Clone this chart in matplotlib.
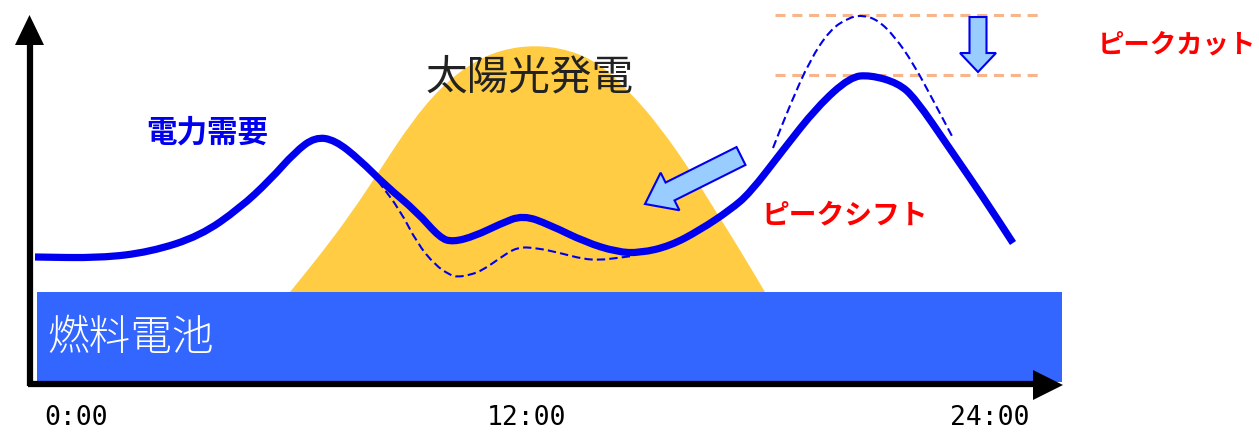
import matplotlib
matplotlib.use("Agg")
import matplotlib.pyplot as plt
from matplotlib.patches import Polygon, Rectangle, FancyArrow, PathPatch
from matplotlib.path import Path

plt.rcParams['font.family'] = ['Noto Sans CJK JP', 'DejaVu Sans']

# Schematic data (pixel-like coordinates, y grows downward)
demand_x = [35, 100, 150, 200, 240, 270, 295, 315, 335, 360, 385, 417, 440, 453, 475, 500, 523, 550, 585, 617, 640, 670, 700, 730, 750, 783, 817, 850, 870, 898, 915, 950, 983, 1013]
demand_y = [257, 258, 252, 236, 208, 180, 152, 137, 140, 160, 185, 212, 238, 242, 236, 224, 215, 225, 242, 252, 253, 246, 230, 210, 193, 150, 107, 77, 75, 83, 98, 149, 197, 243]

orig_x = [378, 400, 417, 435, 450, 457, 470, 483, 500, 517, 537, 560, 583, 600, 617, 632]
orig_y = [181, 210, 243, 265, 275, 277, 275, 270, 258, 247, 248, 253, 259, 260, 258, 256]

orig_peak_x = [773, 790, 810, 830, 848, 862, 878, 895, 913, 933, 953]
orig_peak_y = [148, 105, 60, 30, 18, 15, 20, 37, 63, 100, 138]

sun_x = [290, 320, 350, 380, 410, 440, 470, 500, 535, 570, 600, 630, 660, 690, 715, 740, 765]
sun_y = [292, 255, 215, 170, 124, 88, 64, 50, 45, 50, 64, 92, 127, 170, 210, 250, 292]

fc_rect = (37, 292, 1025, 90)  # x, y, w, h

peak_levels = [15, 75]
peak_x_range = (775, 1042)

time_labels = ["0:00", "12:00", "24:00"]
time_pos = [76, 527, 990]


def smooth_path(xs, ys, close=False):
    pts = list(zip(xs, ys))
    verts = [pts[0]]
    codes = [Path.MOVETO]
    mid = lambda a, b: ((a[0] + b[0]) / 2, (a[1] + b[1]) / 2)
    verts.append(mid(pts[0], pts[1]))
    codes.append(Path.LINETO)
    for i in range(1, len(pts) - 1):
        verts += [pts[i], mid(pts[i], pts[i + 1])]
        codes += [Path.CURVE3, Path.CURVE3]
    verts.append(pts[-1])
    codes.append(Path.LINETO)
    if close:
        verts.append(pts[0])
        codes.append(Path.CLOSEPOLY)
    return Path(verts, codes)


fig = plt.figure(figsize=(12.59, 4.34), dpi=100)
ax = fig.add_axes([0, 0, 1, 1])
ax.set_xlim(0, 1259)
ax.set_ylim(434, 0)
ax.axis('off')

# solar
ax.add_patch(PathPatch(smooth_path(sun_x, sun_y, close=True), facecolor='#FFCC44', edgecolor='none', zorder=1))
ax.text(530, 78, "太陽光発電", fontsize=30, color='#222222', ha='center', va='center', zorder=5)

# fuel cell
x0, y0, w, h = fc_rect
ax.add_patch(Rectangle((x0, y0), w, h, facecolor='#3366FF', edgecolor='none', zorder=2))
ax.text(47, 338, "燃料電池", fontsize=30, color='white', ha='left', va='center', fontweight='light', zorder=5)

# axes arrows
ax.plot([30, 30], [386, 40], color='black', lw=4.5, solid_capstyle='butt', zorder=6)
ax.add_patch(Polygon([[15, 45], [44, 45], [29.5, 15]], closed=True, facecolor='black', edgecolor='none', zorder=6))
ax.plot([28, 1035], [384, 384], color='black', lw=4.5, solid_capstyle='butt', zorder=6)
ax.add_patch(Polygon([[1033, 370], [1033, 400], [1063, 385]], closed=True, facecolor='black', edgecolor='none', zorder=6))

for lbl, px in zip(time_labels, time_pos):
    ax.text(px, 418, lbl, fontsize=19, color='black', ha='center', va='center',
            family=['DejaVu Sans Mono'], zorder=6)

# peak levels
for yl in peak_levels:
    ax.plot(peak_x_range, [yl, yl], color='#F8B58A', lw=2.2, dashes=(3.3, 2.2), zorder=3)

# original demand (dashed)
for xs, ys in [(orig_x, orig_y), (orig_peak_x, orig_peak_y)]:
    ax.add_patch(PathPatch(smooth_path(xs, ys), facecolor='none', edgecolor='#0000EE', lw=1.5,
                           linestyle=(0, (4, 2)), zorder=4))

# demand
ax.add_patch(PathPatch(smooth_path(demand_x, demand_y), facecolor='none', edgecolor='#0000EE', lw=5.2,
                       joinstyle='round', capstyle='butt', zorder=5))
ax.text(207, 133, "電力需要", fontsize=22, color='#0000EE', fontweight='bold', ha='center', va='center', zorder=6)

# arrows
ax.add_patch(FancyArrow(978, 17, 0, 55, width=17, head_width=36, head_length=19,
                        length_includes_head=True, facecolor='#99CCFF', edgecolor='#0000EE', lw=1.5, zorder=7))
ax.add_patch(FancyArrow(741, 156, -96, 48, width=20, head_width=42, head_length=28,
                        length_includes_head=True, facecolor='#99CCFF', edgecolor='#0000EE', lw=1.5, zorder=7))

ax.text(845, 215, "ピークシフト", fontsize=20, color='#FF0000', fontweight='bold', ha='center', va='center', zorder=6)
ax.text(1177, 45, "ピークカット", fontsize=19, color='#FF0000', fontweight='bold', ha='center', va='center', zorder=6)

fig.savefig("out.png", dpi=100)
